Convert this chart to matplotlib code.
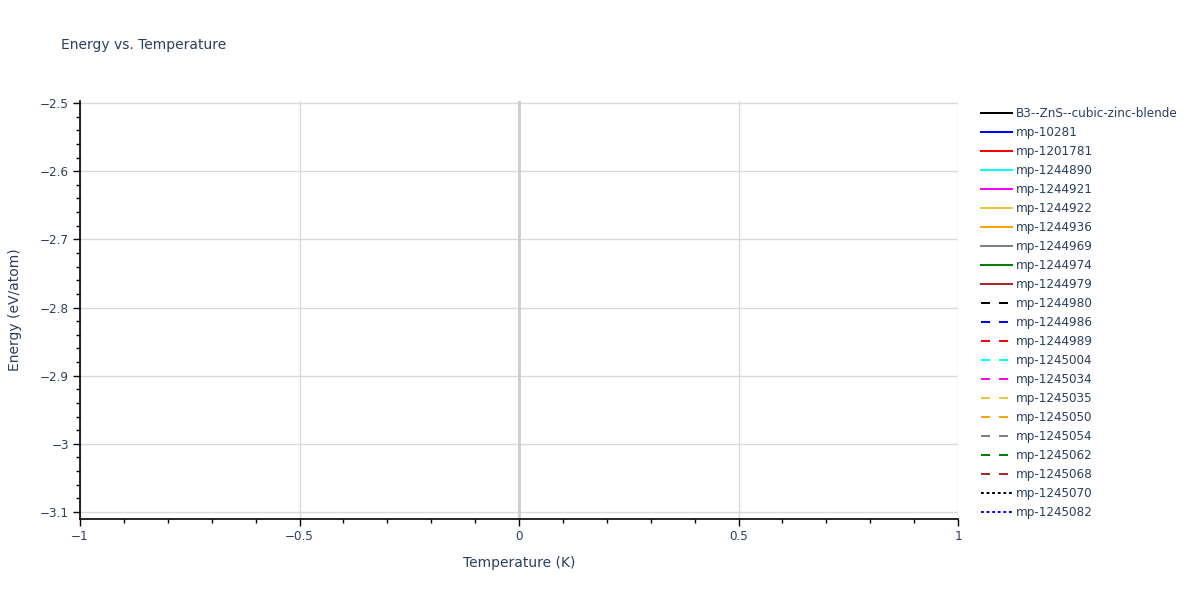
import matplotlib
matplotlib.use("Agg")
import matplotlib.pyplot as plt
from matplotlib.ticker import MultipleLocator, FuncFormatter

plt.rcParams["font.family"] = ["DejaVu Sans"]

TEXT = "#2a3f5f"

# series shown in the legend (no visible points in the chart)
series_names = [
    "B3--ZnS--cubic-zinc-blende", "mp-10281", "mp-1201781", "mp-1244890",
    "mp-1244921", "mp-1244922", "mp-1244936", "mp-1244969", "mp-1244974",
    "mp-1244979", "mp-1244980", "mp-1244986", "mp-1244989", "mp-1245004",
    "mp-1245034", "mp-1245035", "mp-1245050", "mp-1245054", "mp-1245062",
    "mp-1245068", "mp-1245070", "mp-1245082",
]
palette = ["#000000", "#0000ff", "#ff0000", "#00ffff", "#ff00ff",
           "#e8c440", "#ffa500", "#808080", "#008000", "#a52a2a"]
temperature = []          # K
energies = {name: [] for name in series_names}   # eV/atom

x_range = (-1, 1)
y_range = (-3.1103, -2.497)

fig = plt.figure(figsize=(12, 6), dpi=100)
ax = fig.add_axes([80 / 1200, 1 - 519 / 600, 878 / 1200, 418 / 600])

for i, name in enumerate(series_names):
    colour = palette[i % len(palette)]
    if i < 10:
        ls = "-"
    elif i < 20:
        ls = (0, (4.5, 4.5))
    else:
        ls = (0, (1.4, 1.4))
    ax.plot(temperature, energies[name], color=colour, lw=1.44, ls=ls, label=name)

ax.set_xlim(*x_range)
ax.set_ylim(*y_range)

ax.xaxis.set_major_locator(MultipleLocator(0.5))
ax.xaxis.set_minor_locator(MultipleLocator(0.1))
ax.yaxis.set_major_locator(MultipleLocator(0.1))
ax.yaxis.set_minor_locator(MultipleLocator(0.02))

fmt = FuncFormatter(lambda v, p: f"{round(v, 6):g}".replace("-", "\u2212"))
ax.xaxis.set_major_formatter(fmt)
ax.yaxis.set_major_formatter(fmt)

ax.grid(True, which="major", color="#d9d9d9", lw=1)
ax.axvline(0, color="#cccccc", lw=2, zorder=1)
ax.set_axisbelow(True)

for s in ["top", "right"]:
    ax.spines[s].set_visible(False)
for s in ["left", "bottom"]:
    ax.spines[s].set_color("black")
    ax.spines[s].set_linewidth(1.2)

ax.tick_params(which="major", direction="out", length=5, width=1,
               color="black", labelsize=8.64, labelcolor=TEXT, pad=3)
ax.tick_params(which="minor", direction="out", length=3, width=1, color="black")

ax.set_xlabel("Temperature (K)", fontsize=10, color=TEXT, labelpad=9)
ax.set_ylabel("Energy (eV/atom)", fontsize=10, color=TEXT, labelpad=13)

fig.text(61 / 1200, 1 - 45 / 600, "Energy vs. Temperature", fontsize=10,
         color=TEXT, va="center", ha="left")

ax.legend(loc="upper left", bbox_to_anchor=(981 / 1200, 1 - 107 / 600),
          bbox_transform=fig.transFigure, frameon=False, fontsize=8.64,
          labelcolor=TEXT, handlelength=2.6, handletextpad=0.33,
          labelspacing=0.5, borderaxespad=0, borderpad=0)

fig.savefig("out.png", dpi=100)
